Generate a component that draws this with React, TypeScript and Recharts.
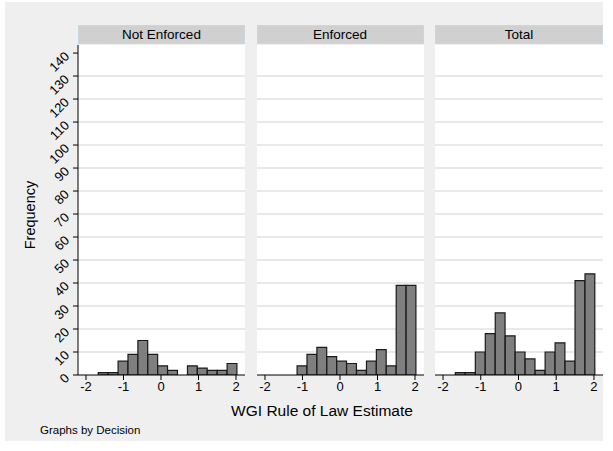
import { BarChart, Bar, XAxis, YAxis, ReferenceLine } from "recharts";

// bin midpoints (14 bins, width ~0.264)
const binMids = [
  -1.541, -1.277, -1.012, -0.748, -0.484, -0.219, 0.045, 0.309, 0.574, 0.838, 1.102, 1.367, 1.631, 1.895,
];

const notEnforced = [1, 1, 6, 9, 15, 9, 4, 2, 0, 4, 3, 2, 2, 5];
const enforced = [0, 0, 4, 9, 12, 8, 6, 5, 2, 6, 11, 4, 39, 39];
const total = [1, 1, 10, 18, 27, 17, 10, 7, 2, 10, 14, 6, 41, 44];

const panelTitles = ["Not Enforced", "Enforced", "Total"];
const xTicks = [-2, -1, 0, 1, 2];
const yTicks = [0, 10, 20, 30, 40, 50, 60, 70, 80, 90, 100, 110, 120, 130, 140];
const gridValues = [10, 20, 30, 40, 50, 60, 70, 80, 90, 100, 110, 120, 130];

const FONT = "'Liberation Sans', Arial, Helvetica, sans-serif";
const X_DOMAIN: [number, number] = [-2.213, 2.24];
const Y_DOMAIN: [number, number] = [0, 143.5];

const panels = [
  { left: 78, width: 167, values: notEnforced },
  { left: 256.5, width: 167, values: enforced },
  { left: 435, width: 168, values: total },
];

const YTick = (props: any) => {
  const { x, y, payload } = props;
  return (
    <text
      x={x - 1}
      y={y + 4}
      textAnchor="end"
      fontSize={13}
      fontFamily={FONT}
      fill="#000"
      transform={`rotate(-45, ${x - 1}, ${y + 4})`}
    >
      {payload.value}
    </text>
  );
};

function Panel({ idx }: { idx: number }) {
  const p = panels[idx];
  const withY = idx === 0;
  const yW = 48;
  const w = withY ? p.width + yW : p.width;
  const data = binMids.map((m, i) => ({ mid: m, freq: p.values[i] }));
  const margin = { top: 45, right: 0, bottom: 0, left: 0 };
  return (
    <div
      style={{
        position: "absolute",
        left: withY ? p.left - yW : p.left,
        top: 0,
        width: w,
        height: 400,
      }}
    >
      {/* gridlines in a back layer so they sit behind the bars */}
      <div style={{ position: "absolute", left: 0, top: 0 }}>
        <BarChart width={w} height={400} data={data} margin={margin}>
          <XAxis
            dataKey="mid"
            type="number"
            domain={X_DOMAIN}
            allowDataOverflow
            height={25}
            axisLine={false}
            tickLine={false}
            tick={false}
          />
          <YAxis
            width={withY ? yW : 0}
            hide={!withY}
            domain={Y_DOMAIN}
            allowDataOverflow
            axisLine={false}
            tickLine={false}
            tick={false}
          />
          {gridValues.map((v) => (
            <ReferenceLine key={v} y={v} stroke="#e2e2e2" strokeWidth={1.5} />
          ))}
        </BarChart>
      </div>
      <div style={{ position: "absolute", left: 0, top: 0 }}>
        <BarChart width={w} height={400} data={data} margin={margin} barGap={0}>
          <XAxis
            dataKey="mid"
            type="number"
            domain={X_DOMAIN}
            ticks={xTicks}
            allowDataOverflow
            height={25}
            tickSize={5}
            stroke="#000"
            tick={{ fill: "#000", fontSize: 13, fontFamily: FONT }}
            interval={0}
          />
          <YAxis
            hide={!withY}
            width={yW}
            domain={Y_DOMAIN}
            ticks={yTicks}
            allowDataOverflow
            tickSize={5}
            stroke="#000"
            tick={<YTick />}
            interval={0}
          />
          <Bar
            dataKey="freq"
            fill="#7f7f7f"
            stroke="#1a1a1a"
            strokeWidth={1.2}
            barSize={9.8}
            isAnimationActive={false}
          />
        </BarChart>
      </div>
    </div>
  );
}

export default function App() {
  return (
    <div
      style={{
        position: "absolute",
        left: 0,
        top: 0,
        width: 613,
        height: 451,
        background: "#ffffff",
        fontFamily: FONT,
      }}
    >
      <div
        style={{
          position: "absolute",
          left: 5,
          top: 2,
          width: 598,
          height: 439,
          background: "#efefef",
        }}
      />
      {panels.map((p, i) => (
        <div
          key={"bg" + i}
          style={{
            position: "absolute",
            left: p.left,
            top: 45,
            width: p.width,
            height: 330,
            background: "#ffffff",
          }}
        />
      ))}
      {panels.map((p, i) => (
        <div
          key={"strip" + i}
          style={{
            position: "absolute",
            left: p.left,
            top: 25,
            width: p.width - 2,
            height: 17,
            background: "#d0d0d0",
            border: "1px solid #c9d7e0",
            textAlign: "center",
            fontSize: 13.5,
            lineHeight: "17px",
            color: "#000",
          }}
        >
          {panelTitles[i]}
        </div>
      ))}
      {panels.map((_, i) => (
        <Panel key={i} idx={i} />
      ))}
      <div
        style={{
          position: "absolute",
          left: 30,
          top: 215,
          transform: "translate(-50%, -50%) rotate(-90deg)",
          fontSize: 14.5,
          color: "#000",
          whiteSpace: "nowrap",
        }}
      >
        Frequency
      </div>
      <div
        style={{
          position: "absolute",
          left: 322,
          top: 411,
          transform: "translate(-50%, -50%)",
          fontSize: 15.5,
          color: "#000",
          whiteSpace: "nowrap",
        }}
      >
        WGI Rule of Law Estimate
      </div>
      <div
        style={{
          position: "absolute",
          left: 40,
          top: 430,
          transform: "translate(0, -50%)",
          fontSize: 11.5,
          color: "#000",
          whiteSpace: "nowrap",
        }}
      >
        Graphs by Decision
      </div>
    </div>
  );
}
